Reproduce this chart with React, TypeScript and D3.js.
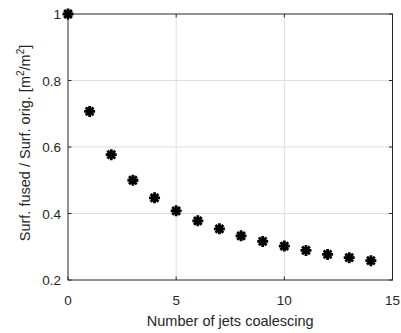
import { useMemo } from "react";
import * as d3 from "d3";

// data
const jets = [0, 1, 2, 3, 4, 5, 6, 7, 8, 9, 10, 11, 12, 13, 14];
const ratio = [1.0, 0.707, 0.577, 0.5, 0.447, 0.408, 0.378, 0.354, 0.333, 0.316, 0.302, 0.289, 0.277, 0.267, 0.258];
const xTicks = [0, 5, 10, 15];
const yTicks = [0.2, 0.4, 0.6, 0.8, 1];

const W = 401;
const H = 333;
const margin = { left: 68, right: 8, top: 14, bottom: 53 };
const axisColor = "#262626";
const gridColor = "#dedede";
const font = "'Liberation Sans', Arial, sans-serif";

function Asterisk({ cx, cy }: { cx: number; cy: number }) {
  const r = 5.5;
  const d = r * Math.SQRT1_2;
  const p =
    `M${cx - r},${cy}L${cx + r},${cy}` +
    `M${cx},${cy - r}L${cx},${cy + r}` +
    `M${cx - d},${cy - d}L${cx + d},${cy + d}` +
    `M${cx - d},${cy + d}L${cx + d},${cy - d}`;
  return <path d={p} stroke="#000" strokeWidth={2.8} fill="none" />;
}

export default function App() {
  const x = useMemo(() => d3.scaleLinear().domain([0, 15]).range([margin.left, W - margin.right - 0.5]), []);
  const y = useMemo(() => d3.scaleLinear().domain([0.2, 1]).range([H - margin.bottom, margin.top]), []);

  const x0 = x(0), x1 = x(15), y0 = y(0.2), y1 = y(1);
  const tick = 3.5;

  return (
    <svg width={W} height={H} style={{ position: "absolute", left: 0, top: 0, background: "#fff" }}>
      <rect x={0} y={0} width={W} height={H} fill="#fff" />
      {/* grid */}
      {xTicks.slice(1, -1).map((t) => (
        <line key={"gx" + t} x1={x(t)} x2={x(t)} y1={y1} y2={y0} stroke={gridColor} strokeWidth={1} />
      ))}
      {yTicks.slice(1, -1).map((t) => (
        <line key={"gy" + t} x1={x0} x2={x1} y1={y(t)} y2={y(t)} stroke={gridColor} strokeWidth={1} />
      ))}
      {/* ticks (inward, on all four sides) */}
      {xTicks.map((t) => (
        <g key={"tx" + t} stroke={axisColor}>
          <line x1={x(t)} x2={x(t)} y1={y0} y2={y0 - tick} />
          <line x1={x(t)} x2={x(t)} y1={y1} y2={y1 + tick} />
        </g>
      ))}
      {yTicks.map((t) => (
        <g key={"ty" + t} stroke={axisColor}>
          <line x1={x0} x2={x0 + tick} y1={y(t)} y2={y(t)} />
          <line x1={x1} x2={x1 - tick} y1={y(t)} y2={y(t)} />
        </g>
      ))}
      {/* box */}
      <rect x={x0} y={y1} width={x1 - x0} height={y0 - y1} fill="none" stroke={axisColor} strokeWidth={1} />
      {/* tick labels */}
      {xTicks.map((t) => (
        <text key={"lx" + t} x={x(t)} y={y0 + 25} textAnchor="middle" fontFamily={font} fontSize={13.5} fill={axisColor}>
          {t}
        </text>
      ))}
      {yTicks.map((t) => (
        <text key={"ly" + t} x={x0 - 7} y={y(t) + 5} textAnchor="end" fontFamily={font} fontSize={13.5} fill={axisColor}>
          {d3.format("~g")(t)}
        </text>
      ))}
      {/* axis labels */}
      <text x={(x0 + x1) / 2} y={H - 7} textAnchor="middle" fontFamily={font} fontSize={14.5} fill={axisColor}>
        Number of jets coalescing
      </text>
      <text
        transform={`translate(30,${(y0 + y1) / 2 - 4}) rotate(-90)`}
        textAnchor="middle"
        fontFamily={font}
        fontSize={14.5}
        fill={axisColor}
      >
        Surf. fused / Surf. orig. [m<tspan dy={-6} fontSize={10}>2</tspan>
        <tspan dy={6}>/m</tspan>
        <tspan dy={-6} fontSize={10}>2</tspan>
        <tspan dy={6}>]</tspan>
      </text>
      {/* markers */}
      {jets.map((n, i) => (
        <Asterisk key={n} cx={x(n)} cy={y(ratio[i])} />
      ))}
    </svg>
  );
}
